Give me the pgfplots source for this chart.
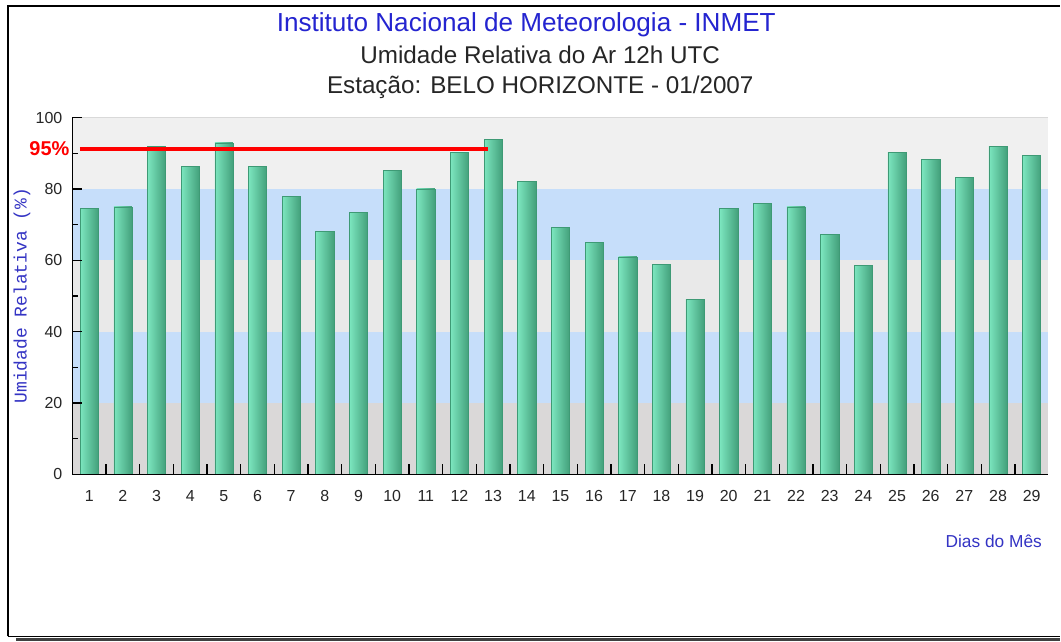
\documentclass[border=0pt]{standalone}
\usepackage{pgfplots}
\usepackage{pgfplotstable}
\pgfplotsset{compat=1.18}
\usepackage{fontspec}
\setmainfont{Liberation Sans}
\newfontfamily\monofont{Liberation Mono}
\definecolor{titleblue}{HTML}{2424D0}
\definecolor{labblue}{HTML}{3434C4}
\definecolor{bandgray}{HTML}{DAD8D8}
\definecolor{bandblue}{HTML}{C6DEFA}
\definecolor{bandlight}{HTML}{E9E9E9}
\definecolor{bandtop}{HTML}{F0F0F0}
\definecolor{barL}{HTML}{7CE6BF}
\definecolor{barR}{HTML}{43A07B}
\definecolor{barE}{HTML}{3E9A75}
\definecolor{framegray}{HTML}{404040}

\pgfplotstableread{
day rh
1 74.5
2 75
3 92
4 86.3
5 93
6 86.3
7 78
8 68.2
9 73.5
10 85.2
11 80.1
12 90.4
13 94
14 82.2
15 69.3
16 65.1
17 61
18 58.9
19 49
20 74.5
21 76
22 75
23 67.2
24 58.6
25 90.4
26 88.3
27 83.2
28 92
29 89.4
}\rhdata

\begin{document}
\begin{tikzpicture}
\path[fill=white] (0pt,0pt) rectangle (795.75pt,481.5pt);
% frame
\draw[black, line width=1.5pt] (5.775pt,3.75pt) -- (5.775pt,477.225pt) -- (795.75pt,477.225pt);
\draw[black, line width=0.75pt] (5.775pt,3.75pt) -- (795.75pt,3.75pt);
\draw[framegray, line width=2.25pt] (12pt,1.125pt) -- (795.75pt,1.125pt);

\begin{axis}[
  at={(54.375pt,125.25pt)}, anchor=south west,
  scale only axis, width=733.1pt, height=267.75pt,
  xmin=0.5, xmax=29.5, ymin=0, ymax=100,
  clip=false,
  axis on top,
  axis lines*=left,
  axis line style={black, line width=1pt},
  tick align=inside,
  major tick length=7.5pt, minor tick length=4.5pt,
  tick style={black, line width=1pt},
  ytick={0,20,...,100}, minor ytick={10,30,...,90},
  xtick={1.5,2.5,...,28.5}, xticklabels={},
  extra x ticks={1,2,...,29},
  extra x tick labels={1,2,3,4,5,6,7,8,9,10,11,12,13,14,15,16,17,18,19,20,21,22,23,24,25,26,27,28,29},
  extra x tick style={major tick length=0pt, xticklabel style={yshift=-8.5pt}},
  /pgf/number format/assume math mode=true,
  ticklabel style={font=\fontsize{12}{13}\selectfont, text=black!85},
  yticklabel style={xshift=-4pt},
]
% background bands
\fill[bandgray]  (axis cs:0.5,0)  rectangle (axis cs:29.5,20);
\fill[bandblue]  (axis cs:0.5,20) rectangle (axis cs:29.5,40);
\fill[bandlight] (axis cs:0.5,40) rectangle (axis cs:29.5,60);
\fill[bandblue]  (axis cs:0.5,60) rectangle (axis cs:29.5,80);
\fill[bandtop]   (axis cs:0.5,80) rectangle (axis cs:29.5,100);
\draw[black!15, line width=0.75pt] (axis cs:0.5,100) -- (axis cs:29.5,100);

\pgfplotsinvokeforeach{1,...,29}{
  \addplot[ybar, bar width=0.54, bar shift=0pt, draw=barE, line width=0.4pt,
    left color=barL, right color=barR, restrict x to domain=#1:#1]
    table[x=day, y=rh] {\rhdata};
}

\addplot[red, line width=3.5pt, no markers] coordinates {(0.72,91.3) (12.84,91.3)};
\node[anchor=east, inner sep=0pt, text=red, font=\bfseries\fontsize{15}{18}\selectfont]
  at (axis cs:0.5,91.3) [xshift=-2pt] {95\%};
\end{axis}

% titles
\node[anchor=base, text=titleblue, font=\fontsize{19.6}{22}\selectfont] at (395.25pt,457.5pt) {Instituto Nacional de Meteorologia - INMET};
\node[anchor=base, text=black!85, font=\fontsize{18.2}{20}\selectfont] at (405.75pt,433.5pt) {Umidade Relativa do Ar 12h UTC};
\node[anchor=base, text=black!85, font=\fontsize{18.2}{20}\selectfont] at (405.75pt,411pt) {Estação: BELO HORIZONTE - 01/2007};
% axis labels
\node[rotate=90, text=labblue, font=\monofont\fontsize{13.5}{15}\selectfont] at (16.5pt,259.5pt) {Umidade Relativa (\%)};
\node[anchor=base east, text=labblue, font=\fontsize{13}{15}\selectfont] at (786pt,70.5pt) {Dias do Mês};
\end{tikzpicture}
\end{document}
